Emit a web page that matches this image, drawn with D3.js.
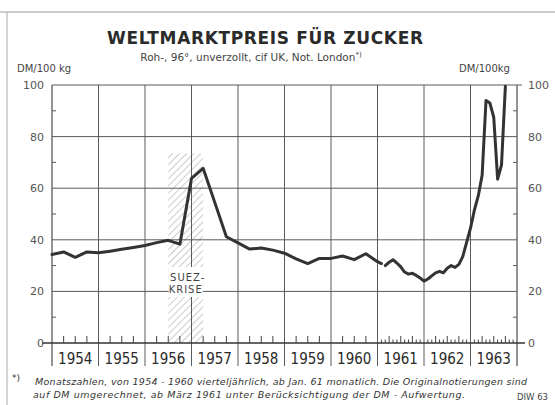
<!DOCTYPE html>
<html>
<head>
<meta charset="utf-8">
<script src="https://cdn.jsdelivr.net/npm/d3@7"></script>
<style>
  body { margin: 0; background: #fff; }
  text { fill: #333; font-family: "DejaVu Sans", sans-serif; }
</style>
</head>
<body>
<div id="chart"></div>
<script>
// Weltmarktpreis für Zucker, DM/100 kg
var years = ["1954", "1955", "1956", "1957", "1958", "1959", "1960", "1961", "1962", "1963"];
var yTicks = [0, 20, 40, 60, 80, 100];

// quarterly 1954 Q1 .. 1960 Q4
var quarterlyPrices = [34.3, 35.3, 33.2, 35.3, 35.0, 35.6, 36.3, 37.0,
                       37.8, 38.9, 39.8, 38.3, 63.8, 67.7, 54.5, 41.2,
                       38.8, 36.4, 36.8, 36.0, 34.8, 32.6, 30.8, 32.8,
                       32.8, 33.7, 32.3, 34.6];
// monthly Jan/Feb 1961 (old parity)
var monthlyOld = [31.5, 30.8];
// monthly Mar 1961 .. Oct 1963 (after DM revaluation)
var monthlyNew = [30.0, 31.3, 32.3, 31.0, 29.5, 27.5, 26.7, 27.0, 26.2, 25.2,
                  24.0, 24.8, 26.0, 27.2, 27.8, 27.2, 29.0, 30.0, 29.3, 30.5, 33.5, 39.0,
                  44.5, 51.5, 57.0, 65.0, 94.0, 93.0, 87.5, 63.5, 69.0, 99.5];
var suezCrisis = [1956.5, 1957.25];
var suezTop = 73.5;

var svgWidth = 555;
var svgHeight = 405;
var margin = { top: 85, right: 38, bottom: 62, left: 52 };
var chartWidth = svgWidth - margin.left - margin.right;
var chartHeight = svgHeight - margin.top - margin.bottom;

var svg = d3.select("#chart").append("svg")
  .attr("width", svgWidth)
  .attr("height", svgHeight);

var x = d3.scaleLinear().domain([1954, 1964]).range([margin.left, margin.left + chartWidth]);
var y = d3.scaleLinear().domain([0, 100]).range([margin.top + chartHeight, margin.top]);

var gridColor = "#5a5a5a";
var x0 = x(1954), x1 = x(1964), yBase = y(0);

// outer frame (top and left)
svg.append("line").attr("x1", 0).attr("x2", svgWidth).attr("y1", 12).attr("y2", 12)
  .attr("stroke", "#999").attr("stroke-width", 1);
svg.append("line").attr("x1", 7).attr("x2", 7).attr("y1", 12).attr("y2", svgHeight)
  .attr("stroke", "#aaa").attr("stroke-width", 1);

// hatched area Suez crisis
var defs = svg.append("defs");
defs.append("pattern")
  .attr("id", "hatch")
  .attr("patternUnits", "userSpaceOnUse")
  .attr("width", 5).attr("height", 5)
  .attr("patternTransform", "rotate(45)")
  .append("line")
  .attr("x1", 0).attr("y1", 0).attr("x2", 0).attr("y2", 5)
  .attr("stroke", "#999").attr("stroke-width", 1);

svg.append("rect")
  .attr("x", x(suezCrisis[0]))
  .attr("y", y(suezTop))
  .attr("width", x(suezCrisis[1]) - x(suezCrisis[0]))
  .attr("height", y(0) - y(suezTop))
  .attr("fill", "url(#hatch)");

// horizontal grid
svg.append("g").selectAll("line")
  .data(yTicks.filter(d => d > 0))
  .enter().append("line")
  .attr("x1", x0).attr("x2", x1)
  .attr("y1", d => y(d)).attr("y2", d => y(d))
  .attr("stroke", gridColor).attr("stroke-width", 1);

// vertical year dividers (extend below axis)
svg.append("g").selectAll("line")
  .data(d3.range(1954, 1965))
  .enter().append("line")
  .attr("x1", d => x(d)).attr("x2", d => x(d))
  .attr("y1", y(100)).attr("y2", yBase + 23)
  .attr("stroke", gridColor).attr("stroke-width", d => (d === 1954 || d === 1964) ? 1.3 : 1);

// x axis base line
svg.append("line")
  .attr("x1", x0 - 10).attr("x2", x1 + 8)
  .attr("y1", yBase).attr("y2", yBase)
  .attr("stroke", "#333").attr("stroke-width", 1.5);

// minor y ticks
var minorY = [10, 30, 50, 70, 90];
svg.append("g").selectAll("line").data(minorY).enter().append("line")
  .attr("x1", x0).attr("x2", x0 + 4)
  .attr("y1", d => y(d)).attr("y2", d => y(d))
  .attr("stroke", gridColor);
svg.append("g").selectAll("line").data(minorY).enter().append("line")
  .attr("x1", x1 - 4).attr("x2", x1)
  .attr("y1", d => y(d)).attr("y2", d => y(d))
  .attr("stroke", gridColor);
svg.append("line").attr("x1", x1).attr("x2", x1 + 5).attr("y1", y(100)).attr("y2", y(100))
  .attr("stroke", gridColor);

// x ticks: quarterly 1954-1960, monthly 1961-1963
var qTicks = [];
d3.range(1954, 1961).forEach(function(yr) { [0.25, 0.5, 0.75].forEach(q => qTicks.push(yr + q)); });
var mTicks = [];
d3.range(1961, 1964).forEach(function(yr) {
  d3.range(1, 12).forEach(m => mTicks.push({ t: yr + m / 12, major: m % 3 === 0 }));
});
svg.append("g").selectAll("line").data(qTicks).enter().append("line")
  .attr("x1", d => x(d)).attr("x2", d => x(d))
  .attr("y1", yBase).attr("y2", yBase - 7)
  .attr("stroke", "#444");
svg.append("g").selectAll("line").data(mTicks).enter().append("line")
  .attr("x1", d => x(d.t)).attr("x2", d => x(d.t))
  .attr("y1", yBase).attr("y2", d => yBase - (d.major ? 7 : 3.5))
  .attr("stroke", "#444");

// y labels left and right
svg.append("g").selectAll("text").data(yTicks).enter().append("text")
  .attr("x", x0 - 8).attr("y", d => y(d) + 4)
  .attr("text-anchor", "end")
  .style("font-size", "11px").style("fill", "#555")
  .text(d => d);
svg.append("g").selectAll("text").data(yTicks).enter().append("text")
  .attr("x", x1 + 11).attr("y", d => y(d) + 4)
  .attr("text-anchor", "start")
  .style("font-size", "11px").style("fill", "#555")
  .text(d => d);

// year labels
svg.append("g").selectAll("text").data(years).enter().append("text")
  .attr("x", d => x(+d + 0.5))
  .attr("y", yBase + 21)
  .attr("text-anchor", "middle")
  .style("font-family", "'DejaVu Sans Condensed', 'Liberation Sans Narrow', sans-serif")
  .style("font-size", "15px")
  .style("fill", "#2a2a2a")
  .text(d => d);

// price line
var line = d3.line()
  .x(d => x(d.t))
  .y(d => y(d.v));

var segOld = quarterlyPrices.map((v, i) => ({ t: 1954 + i * 0.25, v: v }))
  .concat(monthlyOld.map((v, i) => ({ t: 1961 + i / 12, v: v })));
var segNew = monthlyNew.map((v, i) => ({ t: 1961 + (i + 2) / 12, v: v }));

svg.selectAll("path.price")
  .data([segOld, segNew])
  .enter().append("path")
  .attr("class", "price")
  .attr("d", line)
  .attr("fill", "none")
  .attr("stroke", "#333")
  .attr("stroke-width", 3)
  .attr("stroke-linejoin", "round")
  .attr("stroke-linecap", "round");

// Suez label
var suezX = x((suezCrisis[0] + suezCrisis[1]) / 2);
svg.append("rect")
  .attr("x", suezX - 17).attr("y", 267)
  .attr("width", 34).attr("height", 30)
  .attr("fill", "#fff");
svg.append("text").attr("x", suezX + 2).attr("y", 281)
  .attr("text-anchor", "middle")
  .style("font-size", "10px").style("letter-spacing", "1px").style("fill", "#444")
  .text("SUEZ-");
svg.append("text").attr("x", suezX).attr("y", 293)
  .attr("text-anchor", "middle")
  .style("font-size", "10px").style("letter-spacing", "1px").style("fill", "#444")
  .text("KRISE");

// titles
svg.append("text")
  .attr("x", 265).attr("y", 44)
  .attr("text-anchor", "middle")
  .attr("textLength", 316)
  .style("font-size", "17px").style("font-weight", "bold").style("fill", "#2a2a2a")
  .text("WELTMARKTPREIS FÜR ZUCKER");
svg.append("text")
  .attr("x", 251).attr("y", 61)
  .attr("text-anchor", "middle")
  .style("font-size", "10.5px").style("fill", "#444")
  .text("Roh-, 96°, unverzollt, cif UK, Not. London")
  .append("tspan").attr("dy", -4).style("font-size", "7px").text("*)");
svg.append("text")
  .attr("x", 17).attr("y", 72)
  .style("font-size", "10px").style("fill", "#444")
  .text("DM/100 kg");
svg.append("text")
  .attr("x", 459).attr("y", 72)
  .style("font-size", "10px").style("fill", "#444")
  .text("DM/100kg");

// footnote
svg.append("text")
  .attr("x", 12).attr("y", 381)
  .style("font-size", "9px").style("fill", "#333")
  .text("*)");
svg.append("text")
  .attr("x", 35).attr("y", 385)
  .attr("textLength", 492)
  .style("font-size", "9.5px").style("font-style", "italic").style("fill", "#333")
  .text("Monatszahlen, von 1954 - 1960 vierteljährlich, ab Jan. 61 monatlich. Die Originalnotierungen sind");
svg.append("text")
  .attr("x", 33).attr("y", 398)
  .attr("textLength", 432)
  .style("font-size", "9.5px").style("font-style", "italic").style("fill", "#333")
  .text("auf DM umgerechnet, ab März 1961 unter Berücksichtigung der DM - Aufwertung.");
svg.append("text")
  .attr("x", 517).attr("y", 400)
  .style("font-size", "8.5px").style("fill", "#444")
  .text("DIW 63");
</script>
</body>
</html>
